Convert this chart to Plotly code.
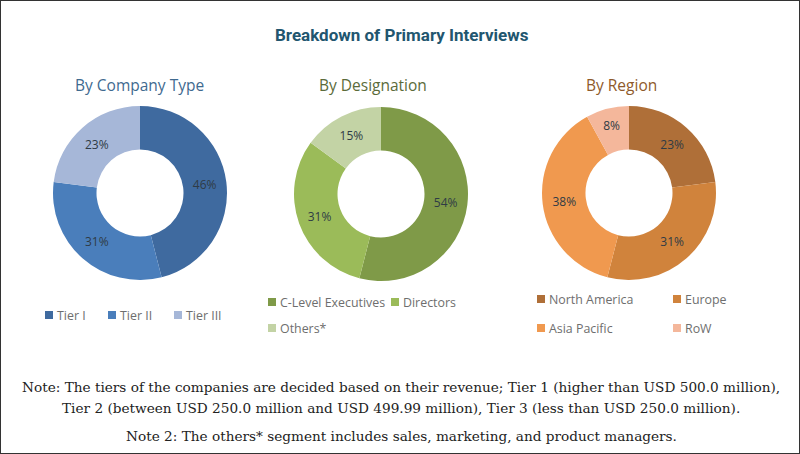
import plotly.graph_objects as go

W = 800
H = 454

company_labels = ['Tier I', 'Tier II', 'Tier III']
company_values = [46, 31, 23]
company_colors = ['#3F6A9F', '#4A7EBB', '#A6B7D8']

designation_labels = ['C-Level Executives', 'Directors', 'Others*']
designation_values = [54, 31, 15]
designation_colors = ['#7F9A48', '#9BBB59', '#C3D3A5']

region_labels = ['North America', 'Europe', 'Asia Pacific', 'RoW']
region_values = [23, 31, 38, 8]
region_colors = ['#AF6F38', '#D0833C', '#F0994F', '#F4B79B']

note_lines = [
    'Note: The tiers of the companies are decided based on their revenue; '
    'Tier 1 (higher than USD 500.0 million),',
    'Tier 2 (between USD 250.0 million and USD 499.99 million), '
    'Tier 3 (less than USD 250.0 million).',
    'Note 2: The others* segment includes sales, marketing, and product managers.',
]


def px_x(x):
    return x / W


def px_y(y):
    return 1 - y / H


def pie(labels, values, colors, cx, cy, r):
    return go.Pie(
        labels=labels,
        values=values,
        marker=dict(colors=colors, line=dict(width=0)),
        domain=dict(x=[px_x(cx - r), px_x(cx + r)],
                    y=[px_y(cy + r), px_y(cy - r)]),
        hole=0.5,
        sort=False,
        direction='clockwise',
        rotation=0,
        textinfo='percent',
        textposition='inside',
        insidetextorientation='horizontal',
        textfont=dict(family='Open Sans', size=12, color='#2F3B45'),
        showlegend=False,
    )


fig = go.Figure()
fig.add_trace(pie(company_labels, company_values, company_colors, 140, 193, 87))
fig.add_trace(pie(designation_labels, designation_values, designation_colors, 381, 194, 87))
fig.add_trace(pie(region_labels, region_values, region_colors, 629, 193, 87))

annotations = []
shapes = []


def text(x, y, s, size, color, family, anchor='center'):
    annotations.append(dict(x=px_x(x), y=px_y(y), xref='paper', yref='paper',
                            text=s, showarrow=False, xanchor=anchor, yanchor='middle',
                            font=dict(size=size, color=color, family=family)))


def legend_item(x, y, s, color):
    shapes.append(dict(type='rect', xref='paper', yref='paper', line_width=0,
                       x0=px_x(x), x1=px_x(x + 8), y0=px_y(y + 4), y1=px_y(y - 4),
                       fillcolor=color))
    text(x + 10, y, s, 12.4, '#6E6E6E', 'Open Sans', anchor='left')


text(402, 35, '<b>Breakdown of Primary Interviews</b>', 17, '#22566F', 'Roboto')
text(139, 85, 'By Company Type', 15.5, '#3F6A8F', 'Open Sans')
text(373, 85, 'By Designation', 15.5, '#5B6B3A', 'Open Sans')
text(621, 85, 'By Region', 15.5, '#8E5A2B', 'Open Sans')

for x, s, c in zip([45, 108, 174], company_labels, company_colors):
    legend_item(x, 315, s, c)
for (x, y), s, c in zip([(268, 302), (391, 302), (268, 328)], designation_labels, designation_colors):
    legend_item(x, y, s, c)
for (x, y), s, c in zip([(537, 299), (673, 299), (537, 328), (673, 328)], region_labels, region_colors):
    legend_item(x, y, s, c)

text(401, 387, note_lines[0], 13.65, '#222222', 'DejaVu Serif')
text(401, 408, note_lines[1], 13.65, '#222222', 'DejaVu Serif')
text(401, 436, note_lines[2], 13.65, '#222222', 'DejaVu Serif')

# image frame
shapes.append(dict(type='rect', xref='paper', yref='paper', x0=0, x1=1, y0=0, y1=1,
                   line=dict(color='#333333', width=2)))

fig.update_layout(
    width=W,
    height=H,
    margin=dict(l=0, r=0, t=0, b=0),
    paper_bgcolor='white',
    annotations=annotations,
    shapes=shapes,
)

# browser default body margin would push the figure off by 8px
fig.write_html('out.html', config=dict(displayModeBar=False),
               post_script="document.body.style.margin = '0';")
